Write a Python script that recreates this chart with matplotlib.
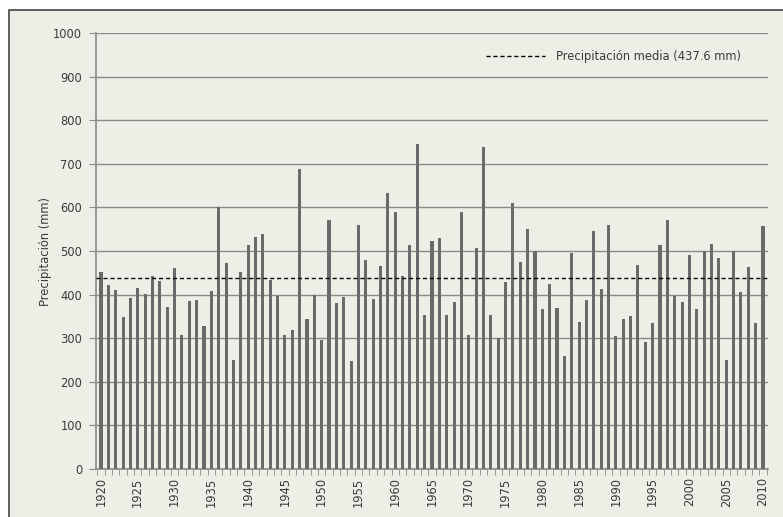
import numpy as np
import matplotlib
matplotlib.use("Agg")
import matplotlib.pyplot as plt
from matplotlib.patches import Rectangle
from matplotlib.lines import Line2D

#### data
years = list(range(1920, 2011))
precip = [
    452, 422, 411, 349, 393, 414, 401, 443, 431, 372,   # 1920-1929
    460, 307, 385, 388, 328, 408, 600, 473, 251, 452,   # 1930-1939
    514, 531, 540, 433, 396, 307, 319, 689, 345, 400,   # 1940-1949
    295, 571, 381, 395, 248, 560, 480, 390, 466, 633,   # 1950-1959
    589, 442, 513, 746, 354, 522, 530, 354, 383, 589,   # 1960-1969
    307, 507, 739, 354, 300, 428, 610, 474, 551, 500,   # 1970-1979
    366, 425, 369, 260, 495, 337, 387, 545, 413, 559,   # 1980-1989
    305, 343, 351, 469, 292, 334, 514, 570, 396, 384,   # 1990-1999
    490, 367, 500, 517, 484, 251, 500, 405, 463, 334,   # 2000-2009
    557,                                                # 2010
]
mean_precip = 437.6
label_years = list(range(1920, 2011, 5))

bg = "#eeeee6"
bar_color = "#6a6a6a"
grid_color = "#8a8a8a"
text_color = "#3a3a3a"
fs = 8.3

fig = plt.figure(figsize=(7.83, 5.17), dpi=100)
fig.patch.set_facecolor("white")
# outer frame, runs off the right/bottom edges
fig.add_artist(Rectangle((9 / 783, -0.05), 1.2, 1 - 10 / 517 + 0.05,
                         transform=fig.transFigure, facecolor=bg,
                         edgecolor="#444444", linewidth=1.2, zorder=-10))

ax = fig.add_axes([96 / 783, 48 / 517, 672 / 783, 436 / 517])
ax.set_facecolor(bg)

ax.bar(years, precip, width=0.42, color=bar_color, zorder=3)
ax.axhline(mean_precip, color="black", linestyle=(0, (3, 2)), linewidth=1.0, zorder=4)

ax.set_xlim(1919.32, 2010.68)
ax.set_ylim(0, 1000)
ax.set_yticks(np.arange(0, 1001, 100))
ax.yaxis.grid(True, color=grid_color, linewidth=1.0, zorder=0)

ax.set_xticks(label_years)
ax.set_xticklabels([str(y) for y in label_years], rotation=90)
ax.set_xticks(np.arange(1919.5, 2011, 1), minor=True)
ax.tick_params(axis="x", which="major", length=0, pad=6, labelsize=fs, colors=text_color)
ax.tick_params(axis="x", which="minor", length=4, color=grid_color, direction="out")
ax.tick_params(axis="y", length=5, color=grid_color, labelsize=fs, pad=5)
for lab in ax.get_yticklabels():
    lab.set_color(text_color)

for side in ["top", "right"]:
    ax.spines[side].set_visible(False)
for side in ["left", "bottom"]:
    ax.spines[side].set_color(grid_color)
    ax.spines[side].set_linewidth(1.2)

ax.set_ylabel("Precipitación (mm)", fontsize=fs, color=text_color, labelpad=1)

handle = Line2D([], [], color="black", linestyle=(0, (3, 2)), linewidth=1.0)
ax.legend([handle], ["Precipitación media (437.6 mm)"], loc="upper right",
          bbox_to_anchor=(0.975, 0.985), frameon=False, fontsize=fs,
          handlelength=5.2, handletextpad=0.9, labelcolor=text_color)

fig.savefig("out.png", dpi=100, facecolor=fig.get_facecolor())
